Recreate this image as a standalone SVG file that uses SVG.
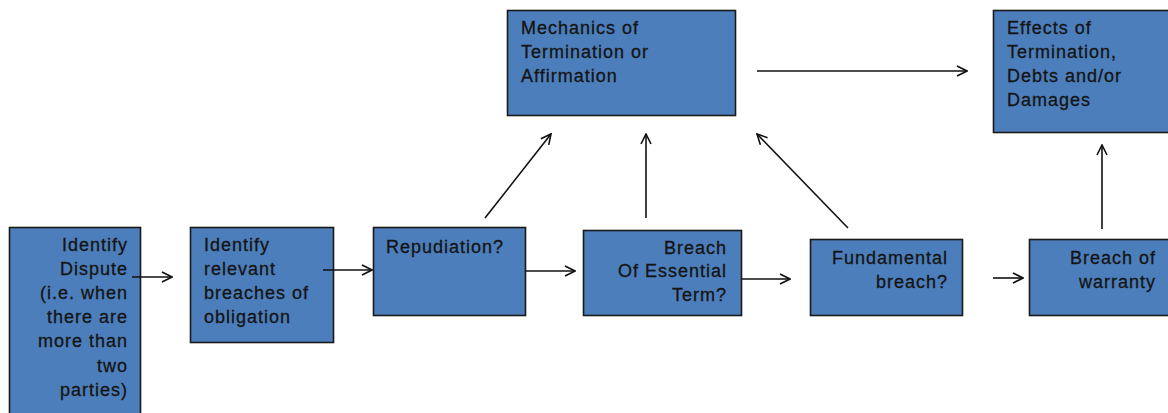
<svg xmlns="http://www.w3.org/2000/svg" width="1168" height="413" viewBox="0 0 1168 413">
<style>
.box{fill:#4c7ebb;stroke:#1a1a1a;stroke-width:1.6}
.t{font-family:"Liberation Sans",Arial,sans-serif;font-size:18px;letter-spacing:1px;fill:#141414;stroke:#141414;stroke-width:0.3}
.r{text-anchor:end}
.c{fill:none;stroke:#111;stroke-width:1.6}
</style>
<defs>
<marker id="ah" viewBox="0 0 12 12" refX="11" refY="6" markerWidth="12" markerHeight="12" markerUnits="userSpaceOnUse" orient="auto">
<path d="M1,1 L11,6 L1,11" fill="none" stroke="#111" stroke-width="1.6"/>
</marker>
</defs>
<rect width="1168" height="413" fill="#fff"/>
<g id="n1"><rect class="box" x="9.5" y="227.5" width="131" height="200"/>
<text class="t r" x="128"><tspan x="128" y="251">Identify</tspan><tspan x="128" y="275">Dispute</tspan><tspan x="128" y="299">(i.e. when</tspan><tspan x="128" y="323">there are</tspan><tspan x="128" y="347">more than</tspan><tspan x="128" y="372">two</tspan><tspan x="128" y="396">parties)</tspan></text></g>
<g id="n2"><rect class="box" x="190.5" y="227.5" width="143" height="115"/>
<text class="t" x="204"><tspan x="204" y="251">Identify</tspan><tspan x="204" y="275">relevant</tspan><tspan x="204" y="299">breaches of</tspan><tspan x="204" y="323">obligation</tspan></text></g>
<g id="n3"><rect class="box" x="373.5" y="227.5" width="152" height="88"/>
<text class="t" x="386" y="253">Repudiation?</text></g>
<g id="n4"><rect class="box" x="583.5" y="230.5" width="158" height="85"/>
<text class="t r"><tspan x="727" y="254">Breach</tspan><tspan x="727" y="277">Of Essential</tspan><tspan x="727" y="301">Term?</tspan></text></g>
<g id="n5"><rect class="box" x="810.5" y="239.5" width="152" height="76"/>
<text class="t r"><tspan x="948" y="264">Fundamental</tspan><tspan x="948" y="288">breach?</tspan></text></g>
<g id="n6"><rect class="box" x="1029.5" y="239.5" width="150" height="76"/>
<text class="t r"><tspan x="1156" y="264">Breach of</tspan><tspan x="1156" y="288">warranty</tspan></text></g>
<g id="n7"><rect class="box" x="507.5" y="10.5" width="228" height="105"/>
<text class="t"><tspan x="521" y="34">Mechanics of</tspan><tspan x="521" y="58">Termination or</tspan><tspan x="521" y="82">Affirmation</tspan></text></g>
<g id="n8"><rect class="box" x="993.5" y="10.5" width="186" height="122"/>
<text class="t"><tspan x="1007" y="34">Effects of</tspan><tspan x="1007" y="58">Termination,</tspan><tspan x="1007" y="82">Debts and/or</tspan><tspan x="1007" y="106">Damages</tspan></text></g>
<g id="connectors">
<line class="c" x1="132" y1="277" x2="172" y2="277" marker-end="url(#ah)"/>
<line class="c" x1="323" y1="270" x2="372" y2="270" marker-end="url(#ah)"/>
<line class="c" x1="526" y1="271" x2="575" y2="271" marker-end="url(#ah)"/>
<line class="c" x1="742" y1="279" x2="790" y2="279" marker-end="url(#ah)"/>
<line class="c" x1="993" y1="278" x2="1023" y2="278" marker-end="url(#ah)"/>
<line class="c" x1="757" y1="71" x2="967" y2="71" marker-end="url(#ah)"/>
<line class="c" x1="485" y1="218" x2="551" y2="134" marker-end="url(#ah)"/>
<line class="c" x1="646" y1="218" x2="646" y2="134" marker-end="url(#ah)"/>
<line class="c" x1="848" y1="228" x2="757" y2="134" marker-end="url(#ah)"/>
<line class="c" x1="1102" y1="229" x2="1102" y2="145" marker-end="url(#ah)"/>
</g>
</svg>
